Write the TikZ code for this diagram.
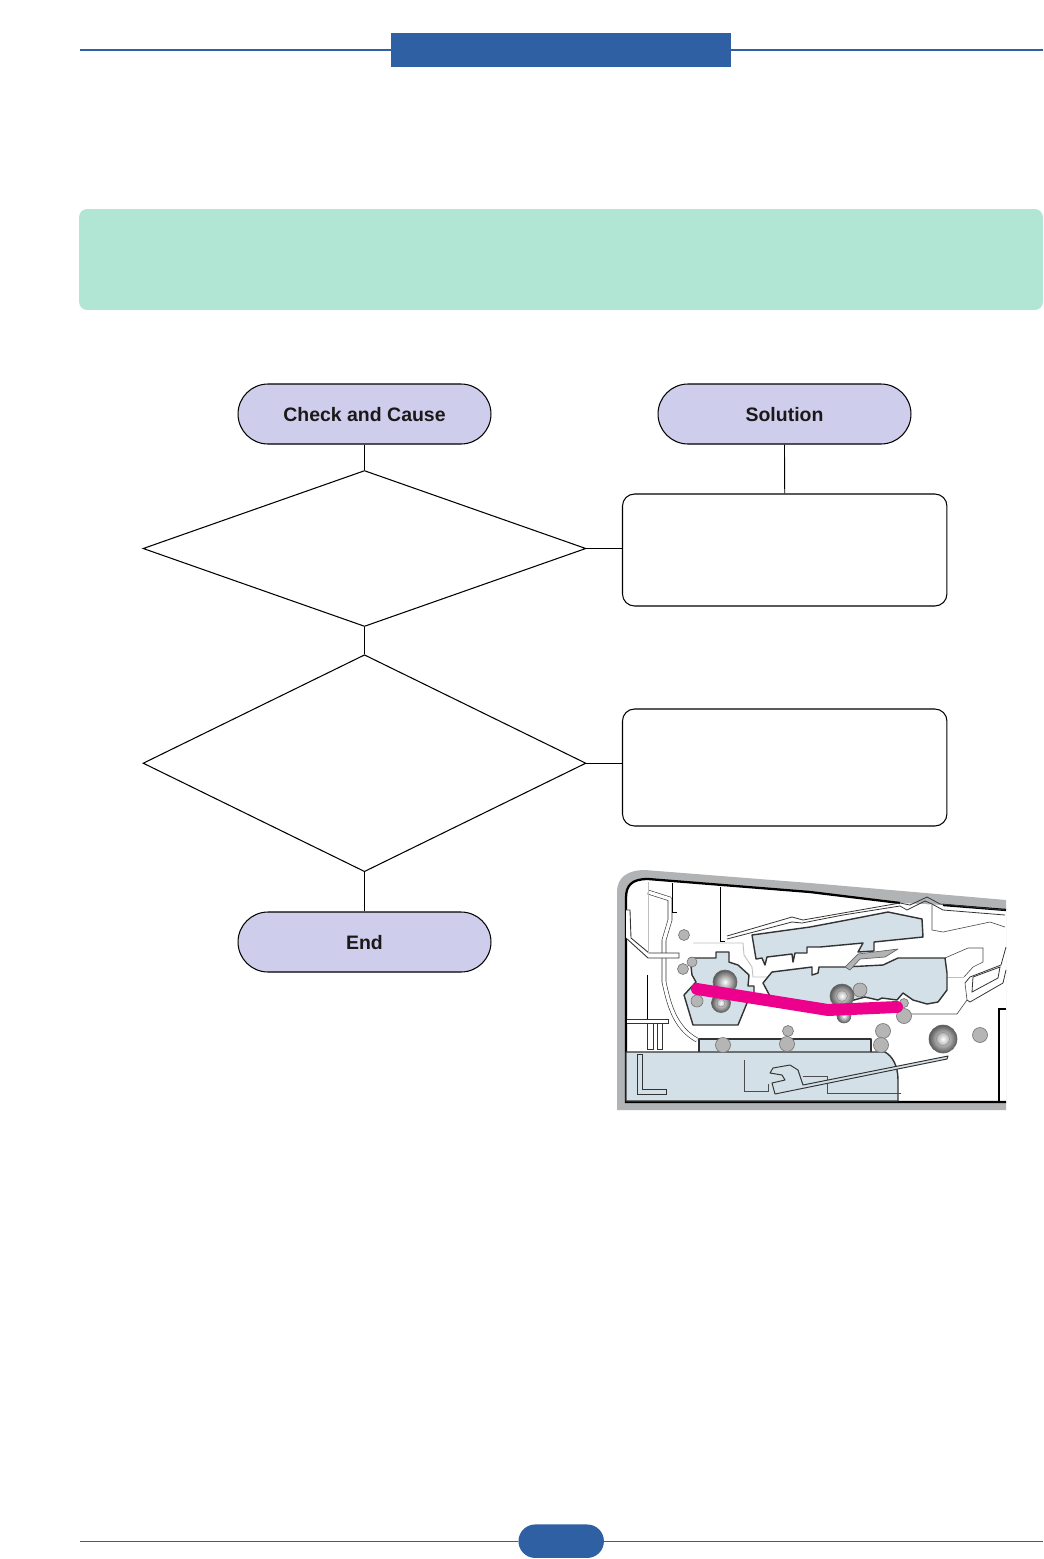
\documentclass[tikz,border=0pt]{standalone}
\usepackage{fontspec}
\setmainfont{Liberation Sans}
\usepackage{tikz}
\usetikzlibrary{shapes.geometric,shapes.misc}
\definecolor{hdrblue}{HTML}{2F60A4}
\definecolor{notegreen}{HTML}{B2E6D4}
\definecolor{pilllilac}{HTML}{CFCDEC}
\definecolor{partblue}{HTML}{D3E0E7}
\definecolor{framegray}{HTML}{B1B3B4}
\definecolor{rollgray}{HTML}{B5B5B5}
\definecolor{pathpink}{HTML}{EC008C}
\definecolor{partline}{HTML}{333333}
\tikzset{
  pill/.style={shape=rounded rectangle,draw=black,line width=0.6pt,fill=pilllilac,inner sep=0pt,minimum width=5.06cm,minimum height=1.2cm,text height=9pt,text depth=0pt,font=\fontsize{11.08}{13}\selectfont\bfseries,text=black!90},
  check/.style={shape=diamond,draw=black,line width=0.6pt,fill=white,inner sep=0pt,minimum width=8.86cm},
  fixbox/.style={shape=rectangle,draw=black,line width=0.6pt,rounded corners=0.24cm,inner sep=0pt,minimum width=6.49cm},
  link/.style={draw=black,line width=0.5pt},
  bluepart/.style={fill=partblue,draw=partline,line width=0.8pt,line join=round},
  thinpart/.style={draw=black!70,line width=0.35pt},
  palepart/.style={draw=black!25,line width=0.5pt},
  guide/.style={draw=partline,line width=0.35pt,double=white,double distance=1.9pt,line join=round},
  roller/.style={fill=rollgray,draw=black!55,line width=0.35pt},
  drum/.style={inner color=white,outer color=black!65,draw=black!60,line width=0.35pt}
}
\begin{document}
\begin{tikzpicture}[x=0.02cm,y=-0.02cm]
\useasboundingbox (0,0) rectangle (1044,1559);
% page furniture
\node[fill=hdrblue,inner sep=0pt,minimum width=6.8cm,minimum height=0.68cm] (hdr) at (561,50) {};
\coordinate (hdrL) at (80,50);
\coordinate (hdrR) at (1043,50);
\draw[hdrblue,line width=0.6pt] (hdrL) -- (hdr.west) (hdr.east) -- (hdrR);
\node[fill=notegreen,rounded corners=0.16cm,inner sep=0pt,minimum width=19.28cm,minimum height=2.02cm] (note) at (561,259.5) {};
\node[shape=rounded rectangle,fill=hdrblue,inner sep=0pt,minimum width=1.71cm,minimum height=0.67cm] (pageno) at (561.2,1541.2) {};
\coordinate (ftrL) at (80,1541.2);
\coordinate (ftrR) at (1043,1541.2);
\draw[hdrblue,line width=0.6pt] (ftrL) -- (pageno.west) (pageno.east) -- (ftrR);
% flowchart
\node[pill] (cause) at (364.5,414) {Check and Cause};
\node[pill] (solution) at (784.5,414) {Solution};
\node[pill] (finish) at (364.5,942) {End};
\node[check,aspect=2.84,minimum height=3.12cm] (firstcheck) at (364.5,548.5) {};
\node[check,aspect=2.04,minimum height=4.34cm] (secondcheck) at (364.5,763.2) {};
\node[fixbox,minimum height=2.24cm] (firstfix) at (784.7,550) {};
\node[fixbox,minimum height=2.34cm] (secondfix) at (784.7,767.5) {};
\draw[link] (cause.south) -- (firstcheck.north);
\draw[link] (firstcheck.south) -- (secondcheck.north);
\draw[link] (secondcheck.south) -- (finish.north);
\draw[link] (solution.south) -- (firstfix.north);
\draw[link] (firstcheck.east) -- (firstcheck.east -| firstfix.west);
\draw[link] (secondcheck.east) -- (secondcheck.east -| secondfix.west);
% cut-away of the machine
\fill[framegray] (617,1110) -- (617,892) .. controls (617,877) and (628,870) .. (645,870) -- (810,883) -- (1006,900) -- (1006,1110) -- cycle;
\fill[white] (626,1102) -- (626,898) .. controls (626,885) and (632,879) .. (648,879) -- (810,892) -- (900,903) -- (943,905) -- (1006,910) -- (1006,1102) -- cycle;
\draw[black,line width=1.3pt] (1006,1102) -- (626,1102) -- (626,898) .. controls (626,885) and (632,879) .. (648,879) -- (810,892) -- (900,903) (943,905) -- (1006,910);
\draw[black,line width=1.1pt] (999,1101) -- (999,1009) -- (1006,1009);
% paper guides
\draw[guide] (648,892) -- (670,899) -- (670,920) -- (664,940) -- (664,982) .. controls (669,1005) and (675,1028) .. (697,1040);
\draw[fill=white,draw=partline,line width=0.5pt] (626,910) -- (630,910) -- (631,938) -- (649,953) -- (679,953) -- (679,958) -- (648,958) -- (626,938);
\draw[palepart] (648,882) -- (648,953);
\draw[black,line width=0.4pt] (672,883) -- (672,912) -- (677,912);
\draw[black,line width=0.4pt] (720,887) -- (720,941) -- (725,941);
\draw[black,line width=0.4pt] (647,975) -- (647,1019);
\draw[palepart] (693,943) -- (743,943) -- (744,955) -- (752,967) -- (753,977) -- (770,977);
\draw[fill=white,draw=partline,line width=0.5pt] (627,1019) -- (668,1019) -- (668,1023) -- (627,1023);
\draw[fill=white,draw=partline,line width=0.5pt] (647,1023) rectangle (653,1049);
\draw[fill=white,draw=partline,line width=0.5pt] (657,1023) rectangle (662,1049);
\draw[partline,line width=0.45pt] (727,936) -- (792,917) -- (803,920) -- (843,913) -- (900,903) -- (910,905) -- (927,897) -- (940,904) -- (1005,910);
\draw[partline,line width=0.45pt] (727,939) -- (792,922) -- (802,923) -- (843,915) -- (900,906) -- (907,910) -- (925,901) -- (932,904) -- (943,910) -- (1005,915);
\draw[thinpart] (932,905) -- (932,930) -- (943,932) -- (990,922) -- (1005,927);
\draw[thinpart] (945,958) -- (968,948) -- (983,948) -- (983,962) -- (973,967) -- (964,977);
\draw[palepart] (947,977) -- (964,977);
\draw[thinpart] (910,1014) -- (957,1014) -- (967,1000) -- (965,983);
\draw[partline,line width=0.45pt] (965,983) -- (970,977) -- (1001,965) -- (1006,947);
\draw[partline,line width=0.45pt] (967,1000) -- (970,1002) -- (1003,983) -- (1006,970);
\draw[partline,line width=0.45pt] (972,992) -- (973,977) -- (1000,967) -- (998,978) -- cycle;
% parts
\path[bluepart] (716,958) -- (716,952) -- (729,952) -- (729,962) -- (738,965) -- (749,975) -- (748,986) -- (754,986) -- (754,993) -- (747,1003) -- (738,1025) -- (693,1025) -- (684,995) -- (696,982) -- (692,975) -- (690,958) -- cycle;
\path[bluepart] (752,935) -- (810,927) -- (847,920) -- (888,912) -- (922,919) -- (923,937) -- (874,942) -- (874,951) -- (858,952) -- (863,943) -- (820,947) -- (807,947) -- (807,953) -- (795,953) -- (793,962) -- (792,954) -- (767,957) -- (765,965) -- (762,958) -- (756,959) -- cycle;
\path[bluepart] (763,983) -- (772,972) -- (812,967) -- (812,975) -- (818,973) -- (819,967) -- (845,967) -- (883,965) -- (898,958) -- (945,958) -- (947,973) -- (947,990) -- (938,1002) -- (927,1004) -- (913,1000) -- (903,993) -- (897,1000) -- (882,998) -- (878,1000) -- (865,997) -- (843,1003) -- (830,1010) -- (772,1000) -- cycle;
\path[fill=framegray,draw=black!60,line width=0.4pt,line join=round] (898,949) -- (885,957) -- (860,959) -- (850,970) -- (845,967) -- (858,954) -- cycle;
\path[bluepart] (699,1052) -- (699,1039) -- (871,1039) -- (871,1052);
\path[bluepart] (626,1052) -- (885,1052) .. controls (892,1056) and (898,1065) .. (898,1080) -- (898,1101) -- (626,1101) -- cycle;
\draw[partline,line width=0.5pt] (637,1054) -- (642,1054) -- (642,1089) -- (666,1089) -- (666,1094) -- (637,1094) -- cycle;
\draw[thinpart] (744,1060) -- (744,1091) -- (768,1091) -- (768,1084);
\draw[thinpart] (803,1076) -- (827,1076) -- (827,1093) -- (901,1093);
\draw[fill=partblue,draw=partline,line width=0.55pt,line join=round] (775,1094) -- (772,1083) -- (785,1080) -- (782,1075) -- (770,1073) -- (773,1068) -- (790,1065) -- (798,1070) -- (803,1085) -- (948,1056) -- (947,1059) -- cycle;
% rollers
\foreach \px/\py/\pr in {684/935/5.5,692/962/5,683/969/5.5,697/1001/6,723/1045/7.5,788/1031/5.5,787/1044/7.5,860/990/7,904/1003/4.5,904/1016/7.5,883/1031/7.5,881/1045/7.5,980/1035/7.5}
  \draw[roller] (\px,\py) circle (\pr);
\foreach \px/\py/\pr in {725/982/12,721/1003/9.5,842/996/12,844/1016/7,943/1039/14}
  \shadedraw[drum] (\px,\py) circle (\pr);
\foreach \px/\py/\pr in {721/1003/4,842/996/5.5,943/1039/6.5}
  \draw[black!45,line width=0.3pt] (\px,\py) circle (\pr);
\draw[pathpink,line width=6.8pt,line cap=round,line join=round] (697,989) -- (828,1010) -- (897,1007);
\end{tikzpicture}
\end{document}
